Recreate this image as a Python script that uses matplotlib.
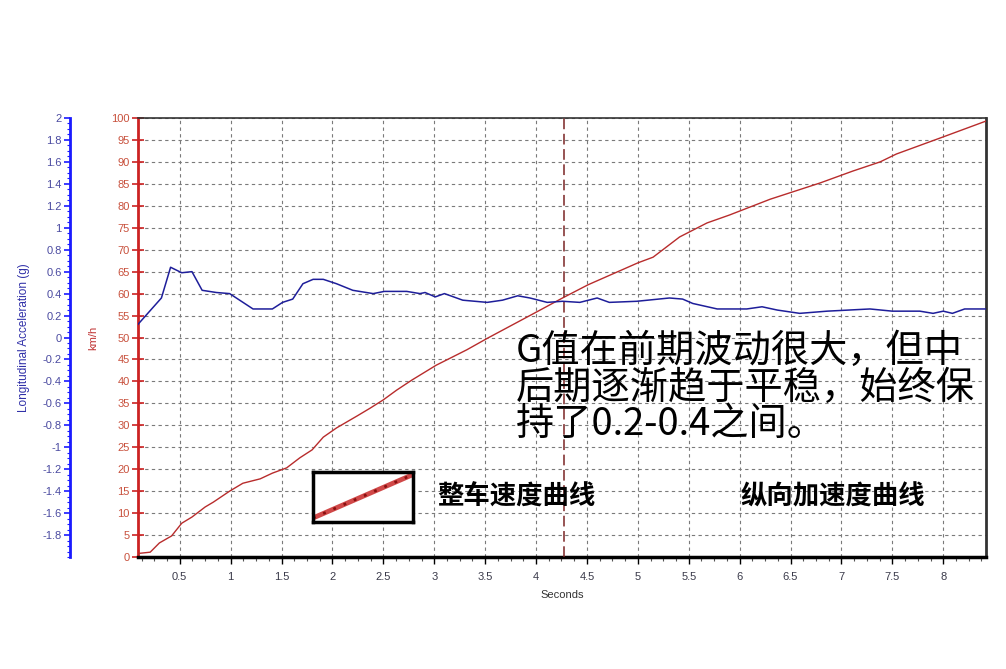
import numpy as np
import matplotlib
matplotlib.use('Agg')
import matplotlib.pyplot as plt
from matplotlib.ticker import MultipleLocator, FormatStrFormatter

plt.rcParams['font.family'] = ['Liberation Sans', 'DejaVu Sans']
CJK = ['Noto Sans CJK SC', 'DejaVu Sans']

# 整车速度 (km/h)
t_speed = [0.09, 0.21, 0.30, 0.42, 0.52, 0.62, 0.75, 0.83, 0.99, 1.12, 1.29, 1.41,
           1.55, 1.68, 1.80, 1.91, 2.04, 2.24, 2.37, 2.50, 2.63, 2.78, 3.02, 3.32,
           3.52, 4.02, 4.26, 4.51, 5.00, 5.15, 5.41, 5.68, 5.90, 6.30, 6.79, 7.11,
           7.38, 7.54, 8.00, 8.42]
speed_kmh = [0.8, 1.1, 3.2, 4.8, 7.7, 9.1, 11.4, 12.5, 15.0, 16.8, 17.8, 19.1,
             20.3, 22.6, 24.4, 27.3, 29.4, 32.1, 33.9, 35.8, 38.0, 40.3, 43.7, 47.2,
             49.8, 56.0, 59.0, 62.0, 67.0, 68.3, 72.9, 76.1, 77.9, 81.5, 85.2, 87.9,
             90.0, 91.8, 95.7, 99.3]

# 纵向加速度 (g)
t_g = [0.09, 0.32, 0.41, 0.52, 0.62, 0.72, 0.86, 0.99, 1.22, 1.41, 1.51, 1.61,
       1.71, 1.81, 1.91, 2.04, 2.20, 2.40, 2.51, 2.73, 2.86, 2.91, 3.01, 3.10,
       3.28, 3.52, 3.67, 3.82, 3.94, 4.11, 4.26, 4.43, 4.60, 4.72, 4.99, 5.31,
       5.44, 5.54, 5.78, 6.07, 6.22, 6.37, 6.59, 6.86, 7.28, 7.50, 7.77, 7.90,
       8.00, 8.09, 8.21, 8.42]
g_long = [0.12, 0.36, 0.64, 0.59, 0.60, 0.43, 0.41, 0.40, 0.26, 0.26, 0.32, 0.35,
          0.49, 0.53, 0.53, 0.49, 0.43, 0.40, 0.42, 0.42, 0.40, 0.41, 0.37, 0.40,
          0.34, 0.32, 0.34, 0.38, 0.36, 0.32, 0.33, 0.32, 0.36, 0.32, 0.33, 0.36,
          0.35, 0.31, 0.26, 0.26, 0.28, 0.25, 0.22, 0.24, 0.26, 0.24, 0.24, 0.22,
          0.24, 0.22, 0.26, 0.26]

marker_t = 4.27
g_ticks = [-1.8, -1.6, -1.4, -1.2, -1, -0.8, -0.6, -0.4, -0.2, 0,
           0.2, 0.4, 0.6, 0.8, 1, 1.2, 1.4, 1.6, 1.8, 2]

note_lines = ['G值在前期波动很大，但中', '后期逐渐趋于平稳，始终保', '持了0.2-0.4之间。']

W, H = 1006, 669
fig = plt.figure(figsize=(W / 100, H / 100), dpi=100)
ax = fig.add_axes([138 / W, 112 / H, 848 / W, 439 / H])

# 速度轴（红）
ax.plot(t_speed, speed_kmh, color='#b82c2c', lw=1.0, zorder=3)
ax.set_xlim(0.09, 8.42)
ax.set_ylim(0, 100)
ax.grid(True, ls=(0, (3, 3)), color='#7a7a7a', lw=0.8)
ax.axvline(marker_t, color='#7a2424', lw=1.1, ls=(0, (7, 3)), zorder=4)

ax.yaxis.set_major_locator(MultipleLocator(5))
ax.tick_params(axis='y', colors='#cc2222', labelcolor='#c8503c', direction='inout',
               length=8, width=1.2, labelsize=8, pad=2)
ax.xaxis.set_major_locator(MultipleLocator(0.5))
ax.xaxis.set_minor_locator(MultipleLocator(0.125))
ax.xaxis.set_major_formatter(FormatStrFormatter('%g'))
ax.tick_params(axis='x', which='major', direction='out', length=5, width=1,
               labelsize=8, labelcolor='#3a3a4a', pad=6)
ax.tick_params(axis='x', which='minor', direction='out', length=3, width=0.8,
               color='#555555')

ax.spines['left'].set_color('#cc2222')
ax.spines['left'].set_linewidth(2)
ax.spines['bottom'].set_color('black')
ax.spines['bottom'].set_linewidth(2.5)
ax.spines['right'].set_color('#333333')
ax.spines['right'].set_linewidth(2)
ax.spines['top'].set_color('#333333')
ax.spines['top'].set_linewidth(1.2)

ax.set_ylabel('km/h', color='#c03434', fontsize=8)
ax.yaxis.set_label_coords(-0.047, 0.5)
ax.set_xlabel('Seconds', color='#333333', fontsize=8)
ax.xaxis.set_label_coords(0.5, -0.075)

# 加速度轴（蓝）
ax2 = ax.twinx()
ax2.plot(t_g, g_long, color='#1e1e9a', lw=1.1)
ax2.set_ylim(-2, 2)
ax2.spines['right'].set_visible(False)
ax2.spines['top'].set_visible(False)
ax2.spines['bottom'].set_visible(False)
ax2.spines['left'].set_visible(True)
ax2.spines['left'].set_position(('axes', -68 / 848))
ax2.spines['left'].set_color('#1a1aff')
ax2.spines['left'].set_linewidth(2)
ax2.yaxis.set_ticks_position('left')
ax2.yaxis.set_label_position('left')
ax2.set_yticks(g_ticks)
ax2.set_yticklabels(['%g' % v for v in g_ticks])
ax2.yaxis.set_minor_locator(MultipleLocator(0.05))
ax2.tick_params(axis='y', which='major', colors='#1a1aff', labelcolor='#4a4aa0',
                direction='out', length=4, width=1.2, labelsize=8, pad=2)
ax2.tick_params(axis='y', which='minor', colors='#1a1aff', direction='out',
                length=2, width=0.8)
ax2.set_ylabel('Longitudinal Acceleration (g)', color='#3030a8', fontsize=8.5)
ax2.yaxis.set_label_coords(-0.127, 0.5)

# 图例样例框
lg = fig.add_axes([313 / W, (H - 522) / H, 100 / W, 50 / H])
lg.set_facecolor('white')
lg.set_xticks([])
lg.set_yticks([])
for s in lg.spines.values():
    s.set_linewidth(2.5)
    s.set_color('black')
lg.set_xlim(0, 1)
lg.set_ylim(0, 1)
lg.plot([0.0, 1.0], [0.08, 0.95], color='#d04848', lw=3.5, solid_capstyle='butt')
lg.plot([0.0, 1.0], [0.08, 0.95], color='#8a1010', lw=2, ls=(0, (1, 3)))

fig.text(437 / W, 1 - 497 / H, '整车速度曲线', fontsize=19, fontweight='bold',
         family=CJK, va='center', ha='left')
fig.text(740 / W, 1 - 497 / H, '纵向加速度曲线', fontsize=19, fontweight='bold',
         family=CJK, va='center', ha='left')

# 注释文字
for i, line in enumerate(note_lines):
    fig.text(516 / W, 1 - (351 + 37 * i) / H, line, fontsize=27.5, family=CJK,
             va='center', ha='left', color='black')

fig.savefig('out.png', dpi=100, facecolor='white')
